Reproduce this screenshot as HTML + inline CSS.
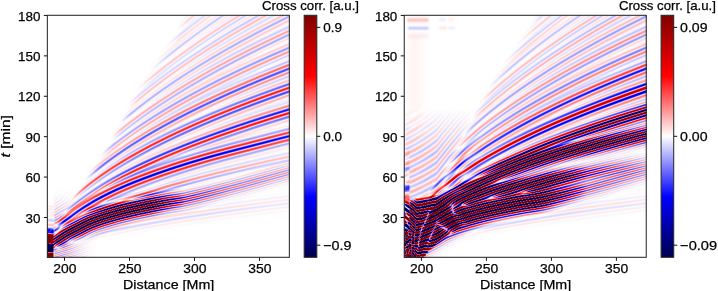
<!DOCTYPE html>
<html><head><meta charset="utf-8"><style>
html,body{margin:0;padding:0;background:#fff;width:718px;height:291px;overflow:hidden}
#wrap{position:relative;width:718px;height:291px}
canvas{position:absolute;filter:blur(0.35px)}
svg{position:absolute;left:0;top:0}
.t{font-family:"Liberation Sans",sans-serif;font-size:13.2px;fill:#000;stroke:#000;stroke-width:0.25px}
.tk{stroke:#111;stroke-width:1.0}
.sp{fill:none;stroke:#2a2a2a;stroke-width:1.05}
</style></head><body><div id="wrap">
<canvas id="c1" width="243" height="243" style="left:47px;top:15px;width:243px;height:243px"></canvas>
<canvas id="c2" width="243" height="243" style="left:404px;top:15px;width:243px;height:243px"></canvas>
<svg width="718" height="291" viewBox="0 0 718 291">
<defs><linearGradient id="seis" x1="0" y1="1" x2="0" y2="0">
<stop offset="0" stop-color="#00004d"/><stop offset="0.25" stop-color="#0000ff"/><stop offset="0.5" stop-color="#ffffff"/><stop offset="0.75" stop-color="#ff0000"/><stop offset="1" stop-color="#800000"/>
</linearGradient></defs>
<line x1="43.85" y1="15.45" x2="47.35" y2="15.45" class="tk"/>
<text x="40.45" y="20.65" text-anchor="end" class="t" textLength="22.4" lengthAdjust="spacingAndGlyphs">180</text>
<line x1="43.85" y1="55.86" x2="47.35" y2="55.86" class="tk"/>
<text x="40.45" y="61.06" text-anchor="end" class="t" textLength="22.4" lengthAdjust="spacingAndGlyphs">150</text>
<line x1="43.85" y1="96.27" x2="47.35" y2="96.27" class="tk"/>
<text x="40.45" y="101.47" text-anchor="end" class="t" textLength="22.4" lengthAdjust="spacingAndGlyphs">120</text>
<line x1="43.85" y1="136.68" x2="47.35" y2="136.68" class="tk"/>
<text x="40.45" y="141.88" text-anchor="end" class="t" textLength="14.9" lengthAdjust="spacingAndGlyphs">90</text>
<line x1="43.85" y1="177.09" x2="47.35" y2="177.09" class="tk"/>
<text x="40.45" y="182.29" text-anchor="end" class="t" textLength="14.9" lengthAdjust="spacingAndGlyphs">60</text>
<line x1="43.85" y1="217.50" x2="47.35" y2="217.50" class="tk"/>
<text x="40.45" y="222.70" text-anchor="end" class="t" textLength="14.9" lengthAdjust="spacingAndGlyphs">30</text>
<line x1="64.50" y1="257.30" x2="64.50" y2="260.80" class="tk"/>
<text x="64.80" y="273.10" text-anchor="middle" class="t" textLength="23.2" lengthAdjust="spacingAndGlyphs">200</text>
<line x1="129.50" y1="257.30" x2="129.50" y2="260.80" class="tk"/>
<text x="129.80" y="273.10" text-anchor="middle" class="t" textLength="23.2" lengthAdjust="spacingAndGlyphs">250</text>
<line x1="194.50" y1="257.30" x2="194.50" y2="260.80" class="tk"/>
<text x="194.80" y="273.10" text-anchor="middle" class="t" textLength="23.2" lengthAdjust="spacingAndGlyphs">300</text>
<line x1="259.50" y1="257.30" x2="259.50" y2="260.80" class="tk"/>
<text x="259.80" y="273.10" text-anchor="middle" class="t" textLength="23.2" lengthAdjust="spacingAndGlyphs">350</text>
<text x="168.65" y="288.6" text-anchor="middle" class="t" textLength="91.2" lengthAdjust="spacingAndGlyphs">Distance [Mm]</text>
<rect x="47.35" y="15.30" width="242.0" height="242.0" class="sp"/>
<rect x="304.20" y="15.30" width="12.6" height="242.0" fill="url(#seis)"/>
<rect x="304.20" y="15.30" width="12.6" height="242.0" class="sp"/>
<line x1="316.80" y1="27.40" x2="320.30" y2="27.40" class="tk"/>
<text x="323.20" y="32.00" class="t" textLength="18.8" lengthAdjust="spacingAndGlyphs">0.9</text>
<line x1="316.80" y1="136.30" x2="320.30" y2="136.30" class="tk"/>
<text x="323.20" y="140.90" class="t" textLength="18.8" lengthAdjust="spacingAndGlyphs">0.0</text>
<line x1="316.80" y1="245.20" x2="320.30" y2="245.20" class="tk"/>
<text x="323.20" y="249.80" class="t" textLength="28.3" lengthAdjust="spacingAndGlyphs">−0.9</text>
<text x="310.50" y="9.7" text-anchor="middle" class="t" textLength="97" lengthAdjust="spacingAndGlyphs">Cross corr. [a.u.]</text>
<line x1="400.75" y1="15.45" x2="404.25" y2="15.45" class="tk"/>
<text x="397.35" y="20.65" text-anchor="end" class="t" textLength="22.4" lengthAdjust="spacingAndGlyphs">180</text>
<line x1="400.75" y1="55.86" x2="404.25" y2="55.86" class="tk"/>
<text x="397.35" y="61.06" text-anchor="end" class="t" textLength="22.4" lengthAdjust="spacingAndGlyphs">150</text>
<line x1="400.75" y1="96.27" x2="404.25" y2="96.27" class="tk"/>
<text x="397.35" y="101.47" text-anchor="end" class="t" textLength="22.4" lengthAdjust="spacingAndGlyphs">120</text>
<line x1="400.75" y1="136.68" x2="404.25" y2="136.68" class="tk"/>
<text x="397.35" y="141.88" text-anchor="end" class="t" textLength="14.9" lengthAdjust="spacingAndGlyphs">90</text>
<line x1="400.75" y1="177.09" x2="404.25" y2="177.09" class="tk"/>
<text x="397.35" y="182.29" text-anchor="end" class="t" textLength="14.9" lengthAdjust="spacingAndGlyphs">60</text>
<line x1="400.75" y1="217.50" x2="404.25" y2="217.50" class="tk"/>
<text x="397.35" y="222.70" text-anchor="end" class="t" textLength="14.9" lengthAdjust="spacingAndGlyphs">30</text>
<line x1="421.40" y1="257.30" x2="421.40" y2="260.80" class="tk"/>
<text x="421.70" y="273.10" text-anchor="middle" class="t" textLength="23.2" lengthAdjust="spacingAndGlyphs">200</text>
<line x1="486.40" y1="257.30" x2="486.40" y2="260.80" class="tk"/>
<text x="486.70" y="273.10" text-anchor="middle" class="t" textLength="23.2" lengthAdjust="spacingAndGlyphs">250</text>
<line x1="551.40" y1="257.30" x2="551.40" y2="260.80" class="tk"/>
<text x="551.70" y="273.10" text-anchor="middle" class="t" textLength="23.2" lengthAdjust="spacingAndGlyphs">300</text>
<line x1="616.40" y1="257.30" x2="616.40" y2="260.80" class="tk"/>
<text x="616.70" y="273.10" text-anchor="middle" class="t" textLength="23.2" lengthAdjust="spacingAndGlyphs">350</text>
<text x="525.55" y="288.6" text-anchor="middle" class="t" textLength="91.2" lengthAdjust="spacingAndGlyphs">Distance [Mm]</text>
<rect x="404.25" y="15.30" width="242.0" height="242.0" class="sp"/>
<rect x="661.10" y="15.30" width="12.6" height="242.0" fill="url(#seis)"/>
<rect x="661.10" y="15.30" width="12.6" height="242.0" class="sp"/>
<line x1="673.70" y1="27.40" x2="677.20" y2="27.40" class="tk"/>
<text x="680.10" y="32.00" class="t" textLength="27.5" lengthAdjust="spacingAndGlyphs">0.09</text>
<line x1="673.70" y1="136.30" x2="677.20" y2="136.30" class="tk"/>
<text x="680.10" y="140.90" class="t" textLength="27.5" lengthAdjust="spacingAndGlyphs">0.00</text>
<line x1="673.70" y1="245.20" x2="677.20" y2="245.20" class="tk"/>
<text x="680.10" y="249.80" class="t" textLength="37.0" lengthAdjust="spacingAndGlyphs">−0.09</text>
<text x="667.40" y="9.7" text-anchor="middle" class="t" textLength="97" lengthAdjust="spacingAndGlyphs">Cross corr. [a.u.]</text>
<text transform="translate(10.0,136.3) rotate(-90)" text-anchor="middle" class="t" textLength="42.3" lengthAdjust="spacingAndGlyphs"><tspan font-style="italic">t</tspan> [min]</text>
</svg></div>
<script>
(function(){
function seis(v){
  var f = (v+1)/2; if(f<0)f=0; if(f>1)f=1;
  var st=[[0,0,0,0.3],[0.25,0,0,1],[0.5,1,1,1],[0.75,1,0,0],[1,0.5,0,0]];
  for(var i=0;i<4;i++){ if(f<=st[i+1][0]){ var a=st[i],b=st[i+1],u=(f-a[0])/(b[0]-a[0]);
    return [255*(a[1]+(b[1]-a[1])*u),255*(a[2]+(b[2]-a[2])*u),255*(a[3]+(b[3]-a[3])*u)]; } }
  return [128,0,0];
}
function interp(pts, x){
  var n=pts.length;
  if(x<=pts[0][0]){ var s=(pts[1][1]-pts[0][1])/(pts[1][0]-pts[0][0]); return pts[0][1]+s*(x-pts[0][0]); }
  if(x>=pts[n-1][0]){ var s2=(pts[n-1][1]-pts[n-2][1])/(pts[n-1][0]-pts[n-2][0]); return pts[n-1][1]+s2*(x-pts[n-1][0]); }
  var i=0; while(i<n-2 && x>pts[i+1][0]) i++;
  var p0=pts[Math.max(i-1,0)], p1=pts[i], p2=pts[i+1], p3=pts[Math.min(i+2,n-1)];
  var t=(x-p1[0])/(p2[0]-p1[0]);
  var m1=(p2[1]-p0[1])/(p2[0]-p0[0])*(p2[0]-p1[0]);
  var m2=(p3[1]-p1[1])/(p3[0]-p1[0])*(p2[0]-p1[0]);
  if(i==0) m1=(p2[1]-p1[1]);
  if(i+2>n-1) m2=(p2[1]-p1[1]);
  var t2=t*t,t3=t2*t;
  return (2*t3-3*t2+1)*p1[1]+(t3-2*t2+t)*m1+(-2*t3+3*t2)*p2[1]+(t3-t2)*m2;
}
function lin(pts,x){
  var n=pts.length; if(x<=pts[0][0]) return pts[0][1]; if(x>=pts[n-1][0]) return pts[n-1][1];
  for(var i=0;i<n-1;i++){ if(x<=pts[i+1][0]){ var u=(x-pts[i][0])/(pts[i+1][0]-pts[i][0]); return pts[i][1]+(pts[i+1][1]-pts[i][1])*u; } }
}
var XO=40, YO=262, PP=0.5, cfg_corner=true;
function draw(id, cfg){
  var cv=document.getElementById(id), ctx=cv.getContext('2d');
  var W=cv.width,H=cv.height, img=ctx.createImageData(W,H), d=img.data;
  var Y0=15, Pp=cfg.Pperp;
  var bands=cfg.bands, nb=bands.length;
  var C=[],A=[],Wd=[],PV=[],S=[],PH=[];
  for(var b=0;b<nb;b++){ C[b]=[];A[b]=[];Wd[b]=[];PV[b]=[];S[b]=[];
    var bd=Object.assign({}, bands[b], (cfg.amp=='aR' && bands[b].R)? bands[b].R : {});
    PH[b]=bd.ph||0;
    for(var i=0;i<W;i++){ var x=cfg.x0+i+0.5, dd=Math.max(x-XO,1), sq=Math.pow(dd,PP);
      var c, sl;
      if(bd.kc){ var kf=function(xx){return YO-interp(bd.kc,xx)*Math.pow(Math.max(xx-XO,1),PP);}; c=kf(x); sl=kf(x-0.5)-kf(x+0.5); }
      else if(bd.c){ c=interp(bd.c,x); sl=(interp(bd.c,x-0.5)-interp(bd.c,x+0.5)); }
      else { c=YO-bd.k*sq; sl=PP*bd.k*sq/dd; }
      var sc=c;
      if(bd.ks){ sc=YO-bd.ks*sq; sl=PP*bd.ks*sq/dd; }
      C[b][i]=c; S[b][i]=sc; A[b][i]=lin(bd[cfg.amp],x); if(bd.k){ var km=lin(cfg.kmax,x); var r=(km-bd.k)/1.6; A[b][i]*= r<=0?0:(r>=1?1:r*r*(3-2*r)); }
      Wd[b][i]= bd.w? lin(bd.w,x) : bd.sk*sq;   // width in pixels
      PV[b][i]=(bd['P'+cfg.amp.slice(1)]||Pp)*Math.sqrt(1+sl*sl);
    } }
  var SS=cfg.ss||1, offs=[];
  for(var a=0;a<SS;a++) offs.push((a+0.5)/SS-0.5);
  for(var j=0;j<H;j++){
    for(var i=0;i<W;i++){
      var r=0,g=0,bl=0;
      for(var sj=0;sj<SS;sj++){ var y=Y0+j+0.5+offs[sj];
       for(var si=0;si<SS;si++){ var dxo=offs[si];
        var v=0;
        for(var b=0;b<nb;b++){
          var cb=C[b][i]+dxo*(C[b][Math.min(i+1,W-1)]-C[b][Math.max(i-1,0)])/2;
          var dy=(y-cb)/Wd[b][i];
          if(dy>3.5||dy<-3.5) continue;
          var sb=S[b][i]+dxo*(S[b][Math.min(i+1,W-1)]-S[b][Math.max(i-1,0)])/2;
          var ph=2*Math.PI*(y-sb)/PV[b][i]+PH[b];
          v+=A[b][i]*Math.exp(-dy*dy)*Math.cos(ph);
        }
        if(cfg.extra) v+=cfg.extra(cfg.x0+i+0.5+dxo,y);
        var c=seis(v/cfg.vmax); r+=c[0]; g+=c[1]; bl+=c[2];
       } }
      var k=4*(j*W+i), n=SS*SS;
      d[k]=r/n;d[k+1]=g/n;d[k+2]=bl/n;d[k+3]=255;
    } }
  ctx.putImageData(img,0,0);
}
var KMAX=[[47,9.3],[67,11.0],[106,14.2],[136,17.6],[176,20.0],[290,31]];
var KMAXR=[[47,10.5],[67,12.3],[97,15.3],[136,18.8],[176,21.0],[290,32]];
function colL(x,y){
  var v=0;
  if(x<=53.3 && y>=205){
    var pts=[[205,0.03],[217,0.03],[220,-0.1],[223,0.0],[225,0.15],[227,0.0],[229.5,-0.5],[233,-0.5],[235,1.4],[243,1.4],[244.5,-1.6],[251.5,-1.6],[253,1.4],[258,1.4]];
    v+=lin(pts,y);
  }
  if(x>52 && x<100 && y>185){
    var mx=Math.min((x-52)/3,1,(100-x)/35), my=Math.min((y-185)/35,1);
    if(mx>0&&my>0){ var sl=lin([[200,1.3],[230,1.0],[257,0.65]],y);
      v+=0.2*mx*my*mx*my*Math.cos(2*Math.PI*(y+sl*(x-47))/(7.3*Math.sqrt(1+sl*sl))+2.1); }
  }
  return v;
}
function colR(x,y){
  var v=0;
  if(x<=52.5 && y>=150){
    var pts=[[150,0.05],[165,0.06],[168,-0.1],[173,-0.1],[176,0.08],[180,0.1],[183,0],[186,-0.3],[191,-0.3],[194,0],[197,0.4],[203,0.4],[206,-0.8],[212,-0.9],[215,0.8],[221,0.9],[224,-0.9],[230,-0.9],[233,0.9],[238,0.9],[241,-1.0],[246,-1.0],[249,1.0],[258,1.0]];
    v+=lin(pts,y);
  }
  // top-left streaks
  if(y<45 && x<110){
    var gx=function(a,b){ return (x<a)?Math.exp(-Math.pow((x-a)/2,2)):(x>b?Math.exp(-Math.pow((x-b)/2,2)):1); };
    v+=0.11*gx(52,70)*Math.exp(-Math.pow((y-20)/2.2,2));
    v-=0.10*gx(53,70)*Math.exp(-Math.pow((y-28.2)/1.8,2));
    v+=0.03*gx(53,70)*Math.exp(-Math.pow((y-36)/3,2));
    v-=0.03*gx(84,87)*Math.exp(-Math.pow((y-19.5)/2,2));
    v+=0.03*gx(93,96)*Math.exp(-Math.pow((y-19.5)/2,2));
    v+=0.045*gx(84,89)*Math.exp(-Math.pow((y-28)/1.8,2));
    v-=0.03*gx(92,96)*Math.exp(-Math.pow((y-28)/1.8,2));
  }
  if(x<75 && y>30 && y<200){ v+=0.02*Math.exp(-Math.pow((x-58)/8,2))*Math.min((y-30)/10,1); }
  // steep faint stripes left of the fan boundary
  if(x<130 && y>105 && y<215){
    var mx=Math.min((x-47)/4+0.3,1,(128-x)/25), my=Math.min((y-108)/45,1,(212-y)/8);
    if(mx>0&&my>0){ var sl2=lin([[47,0.9],[80,1.1],[110,1.0]],x);
      v+=0.13*mx*my*Math.cos(2*Math.PI*(y+sl2*(x-47))/(7.3*Math.sqrt(1+sl2*sl2))+1.3); }
  }
  // saturated corner
  var ylo=lin([[47,204],[72,199],[97,193],[125,189]],x); // upper edge
  var yb=lin([[47,300],[66,262],[72,252],[89,239],[105,228],[122,220],[140,214]],x); // lower-right edge
  if(cfg_corner && y>ylo-12 && y<yb+6 && x<125){
    var m1=(y-ylo+5)/10, m2=(yb-y)/6, m3=(120-x)/35; var m=Math.min(m1,m2,m3,1); if(m>0){ m=m*m*(3-2*m);
      var sl=lin([[47,0.25],[60,0.5],[80,0.6],[120,0.5]],x);
      v+=2.0*m*Math.cos(2*Math.PI*(y+sl*(x-47))/(5.0*Math.sqrt(1+sl*sl))+0.7)*(x<53?0.5:1);
    }
  }
  return v;
}
var AK=[[47,5.3],[61,5.45],[76,5.55],[90,5.7],[115,5.6],[140,5.45],[167,5.3],[187,5.2],[230,5.35],[290,5.7]];
var BK=[[47,8.2],[100,8.3],[150,8.2],[200,8.1],[250,8.0],[290,7.98]];
var bands=[
 {kc:AK, aL:[[47,0.5],[55,1.2],[62,2.0],[150,2.0],[165,1.1],[185,0.5],[230,0.3],[290,0.22]], aR:[[47,1.5],[55,2.5],[180,2.5],[200,1.2],[230,0.4],[290,0.2]], w:[[47,5],[70,7],[90,8.5],[140,7.5],[290,7.5]], ph:0, PL:4.3, PR:4.3, R:{w:[[47,14],[70,14],[100,11],[140,8.5],[290,8]]}},
 {k:3.8, sk:0.5, aL:[[47,0.05],[120,0.1],[200,0.08],[290,0.04]], aR:[[47,0.12],[120,0.12],[200,0.08],[290,0.05]], ph:2.0},
 {PR:4.3, R:{kc:[[47,7.8],[108,7.7],[150,7.1],[175,6.7],[290,6.2]], w:[[47,4],[100,6],[290,8]], ks:7.0}, k:6.6, sk:0.35, aL:[[47,0.1],[70,0.25],[90,0.45],[110,0.45],[150,0.35],[200,0.2],[290,0.12]], aR:[[47,0.8],[90,2.0],[190,2.0],[230,0.6],[290,0.15]], ph:1.0},
 {PR:4.2, R:{kc:[[47,8.3],[100,8.6],[150,8.75],[200,8.55],[250,8.25],[290,8.05]], ks:8.4}, kc:BK, aL:[[47,0.15],[65,0.45],[100,0.6],[200,0.6],[250,0.55],[290,0.5]], aR:[[47,0.6],[80,1.2],[120,2.0],[230,2.0],[290,1.3]], w:[[47,5],[100,7],[290,7]], ph:3.0},
 {PR:5.2, k:9.53, sk:0.43, aL:[[47,0.2],[100,0.45],[150,0.5],[290,0.525]], aR:[[47,0.44],[100,0.9],[170,1.15],[290,1.3]], ph:5.0},
 {k:11.00, sk:0.43, aL:[[47,0.18],[100,0.405],[150,0.45],[290,0.473]], aR:[[47,0.32],[100,0.64],[170,0.76],[290,0.8]], ph:0.5},
 {k:12.30, sk:0.43, aL:[[47,0.14],[100,0.315],[150,0.35],[290,0.367]], aR:[[47,0.2],[100,0.4],[170,0.475],[290,0.5]], ph:2.5},
 {k:13.47, sk:0.43, aL:[[47,0.084],[100,0.189],[150,0.21],[290,0.22]], aR:[[47,0.112],[100,0.224],[170,0.266],[290,0.28]], ph:4.5},
 {k:14.55, sk:0.43, aL:[[47,0.0728],[100,0.164],[150,0.182],[290,0.191]], aR:[[47,0.0924],[100,0.185],[170,0.22],[290,0.231]], ph:1.2},
 {k:15.56, sk:0.38, aL:[[47,0.0616],[100,0.139],[150,0.154],[290,0.162]], aR:[[47,0.0784],[100,0.157],[170,0.186],[290,0.196]], ph:3.1},
 {k:16.50, sk:0.38, aL:[[47,0.0532],[100,0.12],[150,0.133],[290,0.14]], aR:[[47,0.0672],[100,0.134],[170,0.16],[290,0.168]], ph:5.2},
 {k:17.39, sk:0.38, aL:[[47,0.0476],[100,0.107],[150,0.119],[290,0.125]], aR:[[47,0.0588],[100,0.118],[170,0.139],[290,0.147]], ph:0.8},
 {k:18.24, sk:0.38, aL:[[47,0.042],[100,0.0945],[150,0.105],[290,0.111]], aR:[[47,0.0504],[100,0.101],[170,0.12],[290,0.126]], ph:2.9},
 {k:19.05, sk:0.38, aL:[[47,0.0364],[100,0.0819],[150,0.091],[290,0.0959]], aR:[[47,0.0448],[100,0.0896],[170,0.106],[290,0.112]], ph:4.6},
 {k:19.83, sk:0.38, aL:[[47,0.0336],[100,0.0756],[150,0.084],[290,0.0882]], aR:[[47,0.0392],[100,0.0784],[170,0.0931],[290,0.098]], ph:0.3},
 {k:20.58, sk:0.38, aL:[[47,0.0308],[100,0.0693],[150,0.077],[290,0.0812]], aR:[[47,0.0364],[100,0.0728],[170,0.0861],[290,0.091]], ph:2.2},
 {k:21.30, sk:0.38, aL:[[47,0.028],[100,0.063],[150,0.07],[290,0.0735]], aR:[[47,0.0336],[100,0.0672],[170,0.0798],[290,0.084]], ph:4.0},
 {k:22.00, sk:0.38, aL:[[47,0.0252],[100,0.0567],[150,0.063],[290,0.0662]], aR:[[47,0.0308],[100,0.0616],[170,0.0728],[290,0.077]], ph:1.7},
 {k:22.68, sk:0.38, aL:[[47,0.0224],[100,0.0504],[150,0.056],[290,0.0588]], aR:[[47,0.028],[100,0.056],[170,0.0665],[290,0.07]], ph:3.6},
];
draw('c1',{x0:47,ss:2,Pperp:7.3,vmax:1.0,bands:bands,amp:'aL',kmax:KMAX,extra:colL});
draw('c2',{x0:404-356.9,ss:2,Pperp:7.3,vmax:1.0,bands:bands,amp:'aR',kmax:KMAXR,extra:colR});
})();

</script>
</body></html>
